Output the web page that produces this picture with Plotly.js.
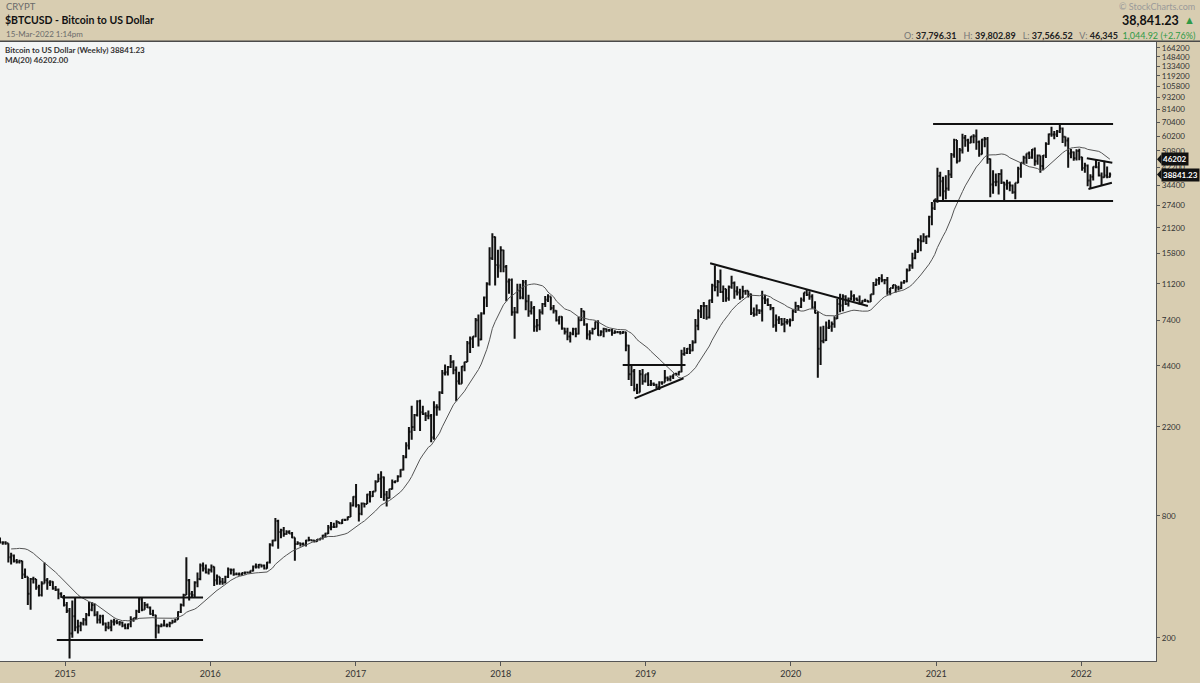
<!DOCTYPE html>
<html>
<head>
<meta charset="utf-8">
<script src="https://cdn.plot.ly/plotly-3.0.1.min.js"></script>
<style>html,body{margin:0;padding:0;background:#d8cdb1;}#chart{width:1200px;height:683px;}</style>
</head>
<body>
<div id="chart"></div>
<script>
// Weekly OHLC bars [open, high, low, close], one array per year; weeks start on the given Monday
const start2014 = '2014-04-07';
const bars2014 = [
[460,480,340,420],[420,535,410,495],[495,510,430,440],[440,450,415,435],
[435,445,420,440],[440,450,430,445],[445,590,445,575],[575,630,560,625],
[625,680,610,650],[650,670,560,595],[595,610,560,600],[600,610,550,595],[595,650,595,635],
[635,645,610,630],[630,635,610,625],[625,625,585,590],[590,600,575,590],
[590,600,575,585],[585,585,470,500],[500,525,460,510],[510,515,470,478],
[478,490,465,475],[475,485,465,478],[478,480,390,410],[410,440,395,400],[400,400,290,330],
[330,395,275,390],[390,400,370,390],[390,390,345,355],[355,365,320,325],
[325,380,320,370],[370,470,370,385],[385,395,345,375],[375,385,360,378],
[378,380,345,350],[350,360,340,345],[345,350,310,330],[330,335,315,318],[318,325,285,290]];
const start2015 = '2015-01-05';
const bars2015 = [
[290,300,265,272],[272,280,158,210],[210,305,200,255],[255,315,215,225],
[225,245,210,228],[228,240,215,235],[235,250,230,245],[245,265,230,260],
[260,300,255,275],[275,300,270,290],[290,295,255,260],[260,270,235,245],[245,260,235,255],
[255,260,230,235],[235,238,215,225],[225,240,220,225],[225,245,215,240],
[240,248,230,240],[240,245,233,237],[237,242,230,238],[238,240,225,230],
[230,235,220,223],[223,235,220,233],[233,255,225,245],[245,250,240,250],[250,275,248,270],
[270,315,265,310],[310,315,270,275],[275,300,275,290],[290,295,280,282],
[282,285,260,262],[262,275,255,258],[258,260,198,230],[230,232,210,228],[228,235,225,230],
[230,245,228,230],[230,235,225,232],[232,240,225,236],[236,245,235,240],
[240,248,238,246],[246,270,245,268],[268,295,265,290],[290,330,285,325],
[325,500,325,385],[385,390,305,330],[330,340,315,325],[325,380,318,375],[375,420,355,390],
[390,465,385,455],[455,470,425,440],[440,460,415,420],[420,440,410,432]];
const start2016 = '2016-01-04';
const bars2016 = [
[432,460,420,448],[448,450,360,385],[385,410,365,400],[400,400,365,378],
[378,395,365,375],[375,405,370,400],[400,445,395,435],[435,440,410,432],[432,440,405,412],
[412,420,408,412],[412,420,405,410],[410,420,405,418],[418,425,410,420],
[420,425,415,420],[420,430,418,428],[428,455,425,450],[450,465,440,448],
[448,462,440,458],[458,460,445,455],[455,460,435,440],[440,475,438,470],[470,585,465,575],
[575,610,565,605],[605,780,600,755],[755,765,550,665],[665,690,620,680],
[680,705,630,650],[650,680,645,665],[665,680,650,655],[655,665,620,625],
[625,625,480,580],[580,600,575,585],[585,590,565,580],[580,590,570,575],[575,610,565,605],
[605,630,600,608],[608,612,600,605],[605,610,590,600],[600,615,595,612],
[612,620,605,618],[618,645,612,640],[640,660,625,655],[655,720,650,700],[700,745,680,705],
[705,740,700,705],[705,760,700,745],[745,745,730,735],[735,770,730,765],
[765,770,755,765],[765,795,760,790],[790,935,790,900],[900,1000,890,995]];
const start2017 = '2017-01-02';
const bars2017 = [
[995,1150,880,905],[905,910,750,820],[820,930,805,920],[920,925,880,915],[915,1030,915,1020],
[1020,1060,930,1000],[1000,1060,990,1055],[1055,1200,1055,1180],[1180,1290,1175,1220],
[1220,1330,980,1240],[1240,1250,950,1020],[1020,1060,890,980],[980,1090,975,1085],
[1085,1210,1080,1175],[1175,1195,1160,1185],[1185,1270,1180,1250],[1250,1360,1240,1350],
[1350,1600,1340,1560],[1560,1850,1540,1780],[1780,2200,1700,2080],[2080,2800,1900,2200],[2200,2550,2100,2520],
[2520,2980,2480,2950],[2950,3000,2100,2600],[2600,2800,2520,2550],[2550,2600,2350,2500],
[2500,2650,2400,2500],[2500,2550,1850,1950],[1950,2950,1900,2750],[2750,2850,2500,2750],[2750,3300,2650,3250],
[3250,4200,3200,4050],[4050,4480,3950,4100],[4100,4400,3950,4350],[4350,4980,4300,4600],
[4600,4700,4000,4200],[4200,4380,2950,3700],[3700,4120,3560,3600],[3600,4400,3600,4380],
[4380,4620,4140,4600],[4600,5850,4600,5700],[5700,6150,5100,6000],[6000,6180,5400,6150],[6150,7600,6100,7400],
[7400,7900,5500,5950],[5950,8100,5900,8000],[8000,9700,7900,9600],[9600,11400,8600,11200],
[11200,17000,11000,15000],[15000,19900,14700,19100],[19100,19200,11000,13900],[13900,16500,12000,13500]];
const start2018 = '2018-01-01';
const bars2018 = [
[13800,17200,12800,16400],[16400,16500,12800,13600],[13600,13900,9200,11500],[11500,11900,10000,11700],[11700,11900,7800,8100],
[8100,8600,6000,8100],[8100,11200,8000,10400],[10400,11200,9400,9600],[9600,11700,9400,11400],
[11400,11700,8300,9200],[9200,9900,7700,8200],[8200,9200,7900,8500],[8500,8700,6500,6900],
[6900,7500,6500,7000],[7000,8400,6600,8100],[8100,9000,7900,8900],[8900,9750,8600,9350],[9350,9950,9100,9700],
[9700,9700,8300,8500],[8500,8800,8000,8250],[8250,8300,7300,7400],[7400,7750,7050,7700],
[7700,7750,6650,6750],[6750,6800,6300,6500],[6500,6800,5900,6150],[6150,6500,5750,6350],
[6350,6800,6250,6700],[6700,6800,6100,6350],[6350,7700,6300,7400],[7400,8500,7350,8200],[8200,8250,6950,7050],
[7050,7150,5950,6300],[6300,6600,5900,6400],[6400,6800,6300,6700],[6700,7300,6700,7250],
[7250,7400,6200,6250],[6250,6600,6200,6500],[6500,6800,6100,6700],[6700,6750,6450,6600],
[6600,6700,6500,6600],[6600,6700,6200,6400],[6400,6600,6350,6450],[6450,6550,6400,6450],[6450,6550,6300,6400],
[6400,6550,6350,6450],[6450,6500,5200,5550],[5550,5600,3750,4000],[4000,4400,3500,4150],
[4150,4250,3300,3400],[3400,3600,3200,3250],[3250,4200,3250,4000],[4000,4250,3550,3700],[3700,4000,3650,4000]];
const start2019 = '2019-01-07';
const bars2019 = [
[4000,4100,3500,3550],[3550,3750,3500,3600],[3600,3650,3500,3550],[3550,3600,3400,3450],
[3450,3700,3350,3650],[3650,3700,3550,3650],[3650,4200,3650,3850],[3850,3900,3700,3800],
[3800,3950,3700,3900],[3900,4000,3800,4000],[4000,4080,3950,4000],[4000,4150,3950,4120],
[4120,5300,4100,5050],[5050,5450,4950,5100],[5100,5400,5050,5350],[5350,5650,5050,5250],[5250,5900,5200,5750],
[5750,7500,5700,6950],[6950,8400,6600,8200],[8200,8800,7600,8700],[8700,9100,7500,8700],
[8700,8800,7450,7650],[7650,9350,7550,9300],[9300,11200,9000,11000],[11000,13800,10300,10800],
[10800,11700,9700,11450],[11450,13200,10100,10200],[10200,11000,9100,10550],[10550,10600,9150,9500],[9500,11000,9250,10800],
[10800,12300,10600,11300],[11300,11500,9450,10300],[10300,10900,9800,10150],[10150,10600,9350,9600],
[9600,10950,9550,10300],[10300,10450,9900,10350],[10350,10350,9600,9950],[9950,10050,7850,8050],[8050,8550,7700,7900],
[7900,8850,7800,8300],[8300,8400,7950,8250],[8250,10350,7300,9500],[9500,9900,8900,9300],
[9300,9500,8700,8800],[8800,8900,8300,8500],[8500,8600,6800,7000],[7000,7900,6500,7450],
[7450,7750,7100,7500],[7500,7600,6950,7100],[7100,7600,6450,7250],[7250,7500,7050,7300],[7300,7550,6900,7400]];
const start2020 = '2020-01-06';
const bars2020 = [
[7400,8400,7350,8200],[8200,9150,8050,8700],[8700,8800,8250,8600],[8600,9600,8500,9350],
[9350,10150,9150,10150],[10150,10500,9750,9900],[9900,10300,9350,9700],[9700,9950,8450,8550],
[8550,9200,8000,8050],[8050,8200,3850,5350],[5350,6900,4450,5850],[5850,6950,5700,5900],[5900,7300,5850,6800],
[6800,7450,6700,6900],[6900,7300,6500,7100],[7100,7750,6800,7550],[7550,9450,7500,8900],
[8900,10000,8100,8750],[8750,9950,8200,9700],[9700,9850,8800,8900],[8900,9600,8650,9450],
[9450,10400,9300,9750],[9750,9950,9200,9450],[9450,9600,9250,9300],[9300,9800,8850,9000],[9000,9300,8950,9250],
[9250,9450,9100,9250],[9250,9300,9050,9150],[9150,9950,9100,9950],[9950,11450,9900,11050],
[11050,11900,10950,11700],[11700,12100,11100,11900],[11900,12500,11400,11700],[11700,11800,11150,11700],[11700,12100,9900,10250],
[10250,10700,9850,10700],[10700,11100,10600,11050],[11050,11050,10150,10750],[10750,10950,10400,10650],
[10650,11500,10550,11350],[11350,11700,11200,11500],[11500,13350,11400,13050],[13050,14000,12950,13800],
[13800,15950,13300,15000],[15000,16500,14800,16100],[16100,18800,15950,18400],[18400,19450,16250,18200],[18200,19900,18000,19150],
[19150,19300,17650,19250],[19250,24300,19000,24000],[24000,28400,21800,26500],[26500,29300,25950,29300]];
const start2021 = '2021-01-04';
const bars2021 = [
[29300,41950,28200,38200],[38200,40100,30300,36000],[36000,37850,28850,32100],[32100,38500,29300,33100],
[33100,40950,32300,38900],[38900,49700,37400,48600],[48600,58350,47000,57500],[57500,57500,44000,45200],
[45200,52600,45000,51200],[51200,61800,49300,59000],[59000,60900,53300,57400],[57400,58400,50400,55800],[55800,60100,55500,59800],
[59800,61500,55500,60000],[60000,64850,51500,56200],[56200,57300,47500,49000],[49000,58400,48800,57800],
[57800,59500,53000,58200],[58200,59600,43900,46400],[46400,46600,30000,34700],[34700,40800,31200,35700],[35700,39300,34000,35800],
[35800,39500,31000,39100],[39100,41300,34900,35500],[35500,35750,28800,34700],[34700,36600,32700,35300],
[35300,35900,32100,34250],[34250,34700,31200,31800],[31800,35400,29300,35400],[35400,42500,35200,41500],
[41500,44700,37500,44400],[44400,48150,43800,47050],[47050,49400,43900,49300],[49300,50500,46400,47150],[47150,51900,46500,51700],
[51700,52900,42900,45200],[45200,48800,43400,48300],[48300,48300,39600,42800],[42800,48500,40800,48200],
[48200,56100,46900,54950],[54950,62000,54500,61500],[61500,67000,59700,61300],[61300,63700,58000,61300],
[61300,64500,59500,63300],[63300,69000,62300,65500],[65500,66300,55600,59700],[59700,59800,53500,57300],[57300,59200,42000,49400],
[49400,51900,46800,50100],[50100,50500,45500,46700],[46700,51800,45600,50800],[50800,52100,45700,47300]];
const start2022 = '2022-01-03';
const bars2022 = [
[47300,47550,40600,41800],[41800,44400,39650,43100],[43100,43500,34000,36300],[36300,38950,32950,37900],[37900,42600,36300,42400],
[42400,45800,41700,42200],[42200,44800,38000,38400],[38400,39800,34300,37700],[37700,45400,37500,38400],
[38400,42600,37200,37800],[37796.31,39802.89,37566.52,38841.23]];

// Trend lines drawn on the chart (start date, end date, start price, end price)
const trendStartDates = ['2014-12-24','2014-12-11','2018-11-04','2018-12-04','2019-06-12','2020-12-24','2020-12-24','2022-01-15','2022-01-19'];
const trendEndDates   = ['2015-12-14','2015-12-14','2019-04-11','2019-04-06','2020-07-13','2022-03-22','2022-03-22','2022-03-20','2022-03-19'];
const trendStartPrices = [316,195,4450,3046,14160,69000,28760,46700,32960];
const trendEndPrices   = [316,195,4450,3825,8700,69000,28760,44460,35400];

// Axis labels
const yTickValues = [200,800,2200,4400,7400,11200,15800,21200,27400,34400,42200,50800,60200,70400,81400,93200,105800,119200,133400,148400,164200];
const xTickDates = ['2015-01-01','2016-01-01','2017-01-01','2018-01-01','2019-01-01','2020-01-01','2021-01-01','2022-01-01'];
const xTickLabels = ['2015','2016','2017','2018','2019','2020','2021','2022'];
const maPeriod = 20;
const lastClose = 38841.23;
const lastMA = 46202.00;

// ---- build series ----
const blocks = [[start2014,bars2014],[start2015,bars2015],[start2016,bars2016],[start2017,bars2017],
  [start2018,bars2018],[start2019,bars2019],[start2020,bars2020],[start2021,bars2021],[start2022,bars2022]];
const X=[],O=[],H=[],L=[],C=[];
blocks.forEach(([s,rows])=>{
  const t0 = Date.parse(s+'T00:00:00Z');
  rows.forEach((r,i)=>{
    X.push(new Date(t0+i*7*864e5).toISOString().slice(0,10));
    O.push(r[0]);H.push(r[1]);L.push(r[2]);C.push(r[3]);
  });
});
const MA = C.map((v,i)=>{
  if(i<maPeriod-1) return null;
  let s=0; for(let k=i-maPeriod+1;k<=i;k++) s+=C[k];
  return s/maPeriod;
});

const traces = [
  {type:'ohlc', x:X, open:O, high:H, low:L, close:C, tickwidth:0.45,
   increasing:{line:{color:'#111',width:2}}, decreasing:{line:{color:'#111',width:2}},
   hoverinfo:'skip', showlegend:false},
  {type:'scatter', mode:'lines', x:X, y:MA, line:{color:'#555',width:1}, hoverinfo:'skip', showlegend:false}
];
trendStartDates.forEach((d,i)=>{
  traces.push({type:'scatter',mode:'lines',x:[d,trendEndDates[i]],y:[trendStartPrices[i],trendEndPrices[i]],
    line:{color:'#111',width:2},hoverinfo:'skip',showlegend:false});
});

const W=1200, PL=0, PR=1156, PT=42, PB=661;
const px = x => (x-PL)/(PR-PL);
const py = y => (PB-y)/(PB-PT);
const yMin = 2.18591, yMax = 5.24421;
const pyVal = v => (Math.log10(v)-yMin)/(yMax-yMin);
const F='Lato, "Open Sans", sans-serif';
const sp='\u00a0';

const annotations = [
  {text:'CRYPT', x:px(4), y:py(7), xanchor:'left', yanchor:'middle', font:{family:F,size:9.5,color:'#6a6a6a'}},
  {text:'<b>$BTCUSD - Bitcoin to US Dollar</b>', x:px(3), y:py(20), xanchor:'left', yanchor:'middle', font:{family:F,size:10.5,color:'#111'}},
  {text:'15-Mar-2022 1:14pm', x:px(4), y:py(34), xanchor:'left', yanchor:'middle', font:{family:F,size:8,color:'#6a6a6a'}},
  {text:'© StockCharts.com', x:px(1197), y:py(7), xanchor:'right', yanchor:'middle', font:{family:F,size:9,color:'#9a9a9a'}},
  {text:'<b>38,841.23</b>', x:px(1181), y:py(20.5), xanchor:'right', yanchor:'middle', font:{family:F,size:12.5,color:'#111'}},
  {text:'▲', x:px(1197), y:py(20), xanchor:'right', yanchor:'middle', font:{family:F,size:11,color:'#2f9a46'}},
  {text:'<span style="color:#777">O:</span> <b>37,796.31</b>'+sp+sp+sp+'<span style="color:#777">H:</span> <b>39,802.89</b>'+sp+sp+sp+
        '<span style="color:#777">L:</span> <b>37,566.52</b>'+sp+sp+sp+'<span style="color:#777">V:</span> <b>46,345</b>'+sp+sp+
        '<span style="color:#2f9a46">1,044.92 (+2.76%)</span>',
   x:px(1197), y:py(35), xanchor:'right', yanchor:'middle', font:{family:F,size:9,color:'#222'}},
  {text:'<b>Bitcoin to US Dollar (Weekly) 38841.23</b>', x:px(3), y:py(49.5), xanchor:'left', yanchor:'middle', font:{family:F,size:8,color:'#333'}},
  {text:'<b>MA(20) 46202.00</b>', x:px(3), y:py(60), xanchor:'left', yanchor:'middle', font:{family:F,size:8,color:'#333'}},
  {text:'<b>'+Math.round(lastMA)+'</b>', x:px(1161), y:pyVal(lastMA), xanchor:'left', yanchor:'middle', bgcolor:'#111', borderpad:1,
   font:{family:F,size:8,color:'#fff'}},
  {text:'<b>'+lastClose.toFixed(2)+'</b>', x:px(1161), y:pyVal(lastClose), xanchor:'left', yanchor:'middle', bgcolor:'#111', borderpad:1,
   font:{family:F,size:8,color:'#fff'}}
].map(a=>Object.assign({xref:'paper',yref:'paper',showarrow:false},a));

const tri = (v)=>{const y=pyVal(v), h=5/(PB-PT);
  return {type:'path',xref:'paper',yref:'paper',path:`M ${px(1157)},${y} L ${px(1161.5)},${y+h} L ${px(1161.5)},${y-h} Z`,
    fillcolor:'#111',line:{width:0}};};

const layout = {
  width:1200, height:683,
  margin:{l:PL, r:W-PR, t:PT, b:683-PB, pad:0},
  paper_bgcolor:'#d8cdb1', plot_bgcolor:'#f3f5f5',
  showlegend:false,
  xaxis:{type:'date', range:['2014-07-21','2022-07-08'], rangeslider:{visible:false},
    tickvals:xTickDates, ticktext:xTickLabels, ticks:'outside', ticklen:4, tickcolor:'#555',
    showgrid:false, zeroline:false, showline:true, linecolor:'#555', linewidth:1.2,
    tickfont:{family:F,size:9,color:'#333'}, fixedrange:true},
  yaxis:{type:'log', side:'right', range:[yMin,yMax], tickvals:yTickValues, ticktext:yTickValues.map(String),
    ticks:'outside', ticklen:3, tickcolor:'#555', showgrid:false, zeroline:false, showline:true,
    linecolor:'#555', linewidth:1.2, tickfont:{family:F,size:8,color:'#333'}, fixedrange:true},
  shapes:[
    {type:'line',xref:'paper',yref:'paper',x0:0,x1:W/(PR-PL),y0:py(41.3),y1:py(41.3),line:{color:'#4a4a4a',width:1.5}},
    tri(lastMA), tri(lastClose)
  ],
  annotations: annotations,
  font:{family:F}
};

Plotly.newPlot('chart', traces, layout, {displayModeBar:false, staticPlot:true});
</script>
</body>
</html>
